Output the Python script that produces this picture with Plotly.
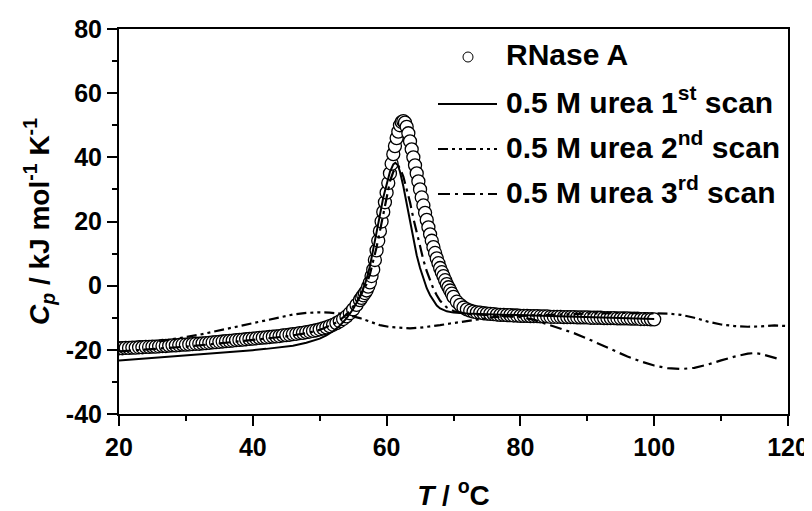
import plotly.graph_objects as go

# ---------------- data ----------------
rnase_T = [20, 20.5, 21, 21.5, 22, 22.5, 23, 23.5, 24, 24.5, 25, 25.5, 26, 26.5, 27, 27.5, 28, 28.5, 29, 29.5,
           30, 30.5, 31, 31.5, 32, 32.5, 33, 33.5, 34, 34.5, 35, 35.5, 36, 36.5, 37, 37.5, 38, 38.5, 39, 39.5,
           40, 40.5, 41, 41.5, 42, 42.5, 43, 43.5, 44, 44.5, 45, 45.5, 46, 46.5, 47, 47.5, 48, 48.5, 49, 49.5,
           50, 50.5, 51, 51.5, 52, 52.5, 53, 53.5, 54, 54.5, 55, 55.5,
           56, 56.25, 56.5, 56.75, 57, 57.25, 57.5, 57.75, 58, 58.25, 58.5, 58.75, 59, 59.25, 59.5, 59.75,
           60, 60.25, 60.5, 60.75, 61, 61.25, 61.5, 61.75, 62, 62.25, 62.5, 62.75, 63, 63.25, 63.5, 63.75,
           64, 64.25, 64.5, 64.75, 65, 65.25, 65.5, 65.75, 66, 66.25, 66.5, 66.75, 67, 67.25, 67.5, 67.75,
           68, 68.25, 68.5, 68.75, 69, 69.25, 69.5, 69.75, 70,
           70.5, 71, 71.5, 72, 72.5, 73, 73.5, 74, 74.5, 75, 75.5, 76, 76.5, 77, 77.5, 78, 78.5, 79, 79.5,
           80, 80.5, 81, 81.5, 82, 82.5, 83, 83.5, 84, 84.5, 85, 85.5, 86, 86.5, 87, 87.5, 88, 88.5, 89, 89.5,
           90, 90.5, 91, 91.5, 92, 92.5, 93, 93.5, 94, 94.5, 95, 95.5, 96, 96.5, 97, 97.5, 98, 98.5, 99, 99.5, 100]
rnase_Cp = [-19.5, -19.5, -19.4, -19.4, -19.3, -19.3, -19.2, -19.2, -19.1, -19.1, -19.0, -19.0, -18.9, -18.8, -18.8, -18.7, -18.6, -18.6, -18.5, -18.4,
            -18.4, -18.3, -18.2, -18.1, -18.1, -18.0, -17.9, -17.8, -17.7, -17.6, -17.5, -17.4, -17.3, -17.2, -17.1, -17.0, -16.9, -16.8, -16.7, -16.6,
            -16.5, -16.4, -16.3, -16.2, -16.1, -16.0, -15.9, -15.8, -15.7, -15.5, -15.4, -15.3, -15.1, -15.0, -14.8, -14.7, -14.5, -14.3, -14.1, -13.9,
            -13.6, -13.3, -13.0, -12.6, -12.2, -11.7, -11.1, -10.4, -9.6, -8.6, -7.4, -6.0,
            -4.5, -3.8, -3.0, -2.3, -1.5, -0.3, 1.0, 3.0, 5.0, 8.0, 11.0, 14.0, 17.0, 20.0, 23.0, 26.0,
            29.0, 32.0, 35.0, 38.0, 41.0, 43.5, 46.0, 48.0, 50.0, 51.0, 51.3, 50.8, 49.5, 47.5, 45.0, 42.5,
            40.0, 37.5, 35.0, 32.5, 30.0, 27.5, 25.0, 22.7, 20.5, 18.2, 16.0, 14.0, 12.0, 10.2, 8.5, 7.0,
            5.5, 4.2, 3.0, 1.7, 0.5, -0.5, -1.5, -2.5, -3.5,
            -5.0, -6.0, -6.8, -7.4, -7.8, -8.1, -8.3, -8.4, -8.6, -8.7, -8.8, -8.9, -9.0, -9.1, -9.1, -9.2, -9.2, -9.3, -9.3,
            -9.4, -9.4, -9.4, -9.5, -9.5, -9.5, -9.6, -9.6, -9.6, -9.7, -9.7, -9.7, -9.7, -9.8, -9.8, -9.8, -9.8, -9.9, -9.9, -9.9,
            -9.9, -10.0, -10.0, -10.0, -10.0, -10.1, -10.1, -10.1, -10.1, -10.2, -10.2, -10.2, -10.2, -10.3, -10.3, -10.3, -10.4, -10.4, -10.4, -10.5, -10.5]

scan1_T = [20, 22, 24, 26, 28, 30, 32, 34, 36, 38, 40, 42, 44, 46, 48, 50, 51, 52, 53, 54, 55, 56, 56.5, 57, 57.5,
           58, 58.5, 59, 59.5, 60, 60.5, 61, 61.3, 61.7, 62, 62.5, 63, 63.5, 64, 64.5, 65, 65.5, 66, 66.5, 67,
           67.5, 68, 69, 70, 72, 75, 80, 85, 90, 95, 100]
scan1_Cp = [-23.3, -23.0, -22.7, -22.4, -22.1, -21.8, -21.4, -21.1, -20.8, -20.5, -20.1, -19.7, -19.3, -18.7, -17.8,
            -16.5, -15.5, -14.2, -12.5, -10.2, -7.3, -3.5, -1.0, 2.0, 6.0, 11.0, 16.5, 22.0, 27.5, 32.0, 35.5, 37.8,
            38.3, 37.5, 35.5, 31.0, 25.5, 19.5, 14.0, 9.5, 5.5, 2.0, -0.8, -3.0, -4.8, -6.2, -7.1, -8.0, -8.4, -8.7,
            -8.9, -9.2, -9.5, -9.8, -10.1, -10.4]

scan2_T = [26, 28, 30, 32, 34, 36, 38, 40, 42, 44, 46, 48, 50, 51.5, 53, 54.5, 56, 57.5, 59, 60.5, 62, 63.5, 65,
           66.5, 68, 69.5, 71, 72.5, 74, 76, 80, 85, 90, 95, 100, 102, 104, 106, 108, 110, 112, 114, 116, 118, 120]
scan2_Cp = [-17.4, -16.8, -16.0, -15.3, -14.4, -13.5, -12.6, -11.8, -10.8, -9.8, -9.0, -8.5, -8.3, -8.4, -8.7, -9.3,
            -10.1, -11.2, -12.3, -12.9, -13.2, -13.3, -13.1, -12.8, -12.3, -11.8, -11.3, -10.8, -10.3, -9.8, -9.4,
            -9.0, -8.7, -8.5, -8.5, -8.7, -9.1, -10.0, -11.2, -12.1, -12.6, -12.8, -12.7, -12.4, -12.6]

scan3_T = [20, 25, 30, 35, 40, 45, 48, 50, 52, 53, 54, 55, 56, 57, 57.5, 58, 58.5, 59, 59.5, 60, 60.5, 61, 61.5,
           61.8, 62, 62.5, 63, 63.5, 64, 64.5, 65, 65.5, 66, 66.5, 67, 67.5, 68, 69, 70, 72, 75, 80, 82, 84, 86,
           88, 90, 92, 94, 96, 98, 100, 102, 104, 106, 108, 110, 112, 114, 115, 116, 117, 118.5]
scan3_Cp = [-20.5, -19.8, -19.0, -18.0, -17.0, -15.8, -14.8, -13.8, -12.0, -10.8, -9.0, -6.5, -3.5, 0.5, 3.5, 7.5,
            12.0, 17.0, 22.5, 28.0, 32.5, 35.5, 37.0, 37.2, 36.5, 34.0, 30.0, 26.0, 21.0, 16.5, 12.0, 8.0, 4.5, 1.5,
            -1.0, -3.0, -4.7, -6.8, -7.9, -8.8, -9.2, -9.8, -10.6, -12.0, -13.3, -14.8, -16.5, -18.4, -20.3, -22.1,
            -23.6, -24.9, -25.7, -26.0, -25.6, -24.6, -23.3, -22.1, -21.2, -21.0, -21.3, -21.9, -22.8]

series_names = ["RNase A", "0.5 M urea 1<sup>st</sup> scan",
                "0.5 M urea 2<sup>nd</sup> scan", "0.5 M urea 3<sup>rd</sup> scan"]

x_ticks = [20, 40, 60, 80, 100, 120]
y_ticks = [-40, -20, 0, 20, 40, 60, 80]

# ---------------- styles ----------------
FONT = "Liberation Sans"
DASH2 = "10px,4px,3px,4px,3px,4px"
DASH3 = "12px,5px,3px,5px"

# the page body adds an 8 px margin, so the figure is placed at (8, 8)
OFF = 8
W, H = 812 - OFF, 511 - OFF
# target plot area in page pixels: x 119..788, y 29..414
PL, PR, PT, PB = 119, 788, 29, 414
L, T = PL - OFF, PT - OFF
R, B = W - (PR - OFF), H - (PB - OFF)
pw, ph = PR - PL, PB - PT


def px2paper(px, py):
    return (px - PL) / pw, (PB - py) / ph


fig = go.Figure()
fig.add_trace(go.Scatter(x=rnase_T, y=rnase_Cp, mode="markers", name=series_names[0],
                         marker=dict(symbol="circle", size=13, color="white",
                                     line=dict(color="black", width=1.3))))
fig.add_trace(go.Scatter(x=scan1_T, y=scan1_Cp, mode="lines", name=series_names[1],
                         line=dict(color="black", width=2)))
fig.add_trace(go.Scatter(x=scan2_T, y=scan2_Cp, mode="lines", name=series_names[2],
                         line=dict(color="black", width=2.2, dash=DASH2)))
fig.add_trace(go.Scatter(x=scan3_T, y=scan3_Cp, mode="lines", name=series_names[3],
                         line=dict(color="black", width=2.2, dash=DASH3)))

# manual legend
rows_y = [54, 100, 145, 190]
for i, name in enumerate(series_names):
    tx, ty = px2paper(504, rows_y[i])
    fig.add_annotation(x=tx, y=ty, xref="paper", yref="paper", text="<b>" + name + "</b>",
                       showarrow=False, xanchor="left", yanchor="middle",
                       font=dict(family=FONT, size=30, color="black"))
cx, cy = px2paper(468, 57)
fig.add_shape(type="circle", xref="paper", yref="paper", xsizemode="pixel", ysizemode="pixel",
              xanchor=cx, yanchor=cy, x0=-5, x1=5, y0=-5, y1=5,
              line=dict(color="black", width=1), fillcolor="white")
for i, dash in zip([1, 2, 3], ["solid", DASH2, DASH3]):
    x0, y0 = px2paper(438, rows_y[i] + 4)
    x1, _ = px2paper(497, rows_y[i] + 4)
    fig.add_shape(type="line", xref="paper", yref="paper", x0=x0, x1=x1, y0=y0, y1=y0,
                  line=dict(color="black", width=2, dash=dash))

axis_common = dict(showgrid=False, zeroline=False, showline=True, linecolor="black", linewidth=2,
                   mirror=True, ticks="outside", ticklen=10, tickwidth=2, tickcolor="black",
                   tickfont=dict(family=FONT, size=25, color="black", weight="bold"))

fig.update_xaxes(range=[20, 120], tickvals=x_ticks, ticktext=[str(v) for v in x_ticks],
                 minor=dict(dtick=10, tick0=0, ticks="outside", ticklen=5, tickwidth=2, tickcolor="black"),
                 title=dict(text="<b><i>T</i> / <sup>o</sup>C</b>", standoff=28,
                            font=dict(family=FONT, size=28, color="black")),
                 **axis_common)
fig.update_yaxes(range=[-40, 80], tickvals=y_ticks, ticktext=[str(v) for v in y_ticks],
                 minor=dict(dtick=10, tick0=0, ticks="outside", ticklen=5, tickwidth=2, tickcolor="black"),
                 title=dict(text="<b><i>C</i><sub><i>p</i></sub> / kJ mol<sup>-1</sup> K<sup>-1</sup></b>",
                            standoff=8, font=dict(family=FONT, size=28, color="black")),
                 **axis_common)

fig.update_layout(width=W, height=H, margin=dict(l=L, r=R, t=T, b=B, autoexpand=False),
                  paper_bgcolor="white", plot_bgcolor="white", showlegend=False,
                  font=dict(family=FONT, color="black"))

fig.write_html("out.html")
